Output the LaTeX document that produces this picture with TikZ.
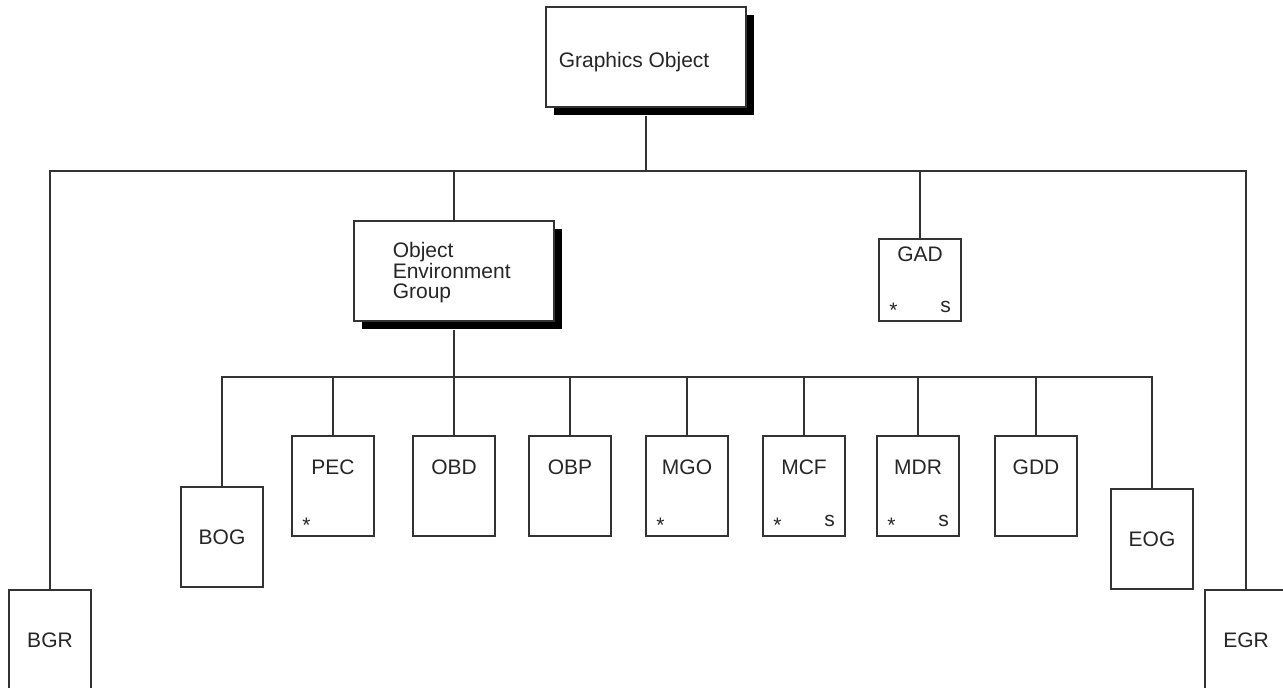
\documentclass[tikz,border=0pt]{standalone}
\usepackage{fontspec}
\setmainfont{Liberation Sans}
\usetikzlibrary{shadows}

\begin{document}
\begin{tikzpicture}[x=0.5pt, y=0.5pt]
\tikzset{box/.style = {shape=rectangle, draw=black!80, line width=0.65pt, fill=white, minimum width=41pt, minimum height=50pt, inner sep=0pt, font=\fontsize{10.5}{10.2}\selectfont, text=black!85}}
\tikzset{bigbox/.style = {box, minimum width=100pt, drop shadow={shadow xshift=4pt, shadow yshift=-4pt, fill=black, opacity=1}}}
    \tikzset{tag/.style = {inner sep=0pt, font=\fontsize{10.5}{10.2}\selectfont, text=black!85}}
    \tikzset{edge/.style = {draw=black!80, line width=0.65pt}}
\useasboundingbox (0,0) rectangle (1283,688);
\clip (0,0) rectangle (1283,688);

% Top level
\node[bigbox] (go) at (646,631){};
\node[tag, anchor=base west] (go-t) at ([shift={(6.5pt,-5.5pt)}]go.west){Graphics Object};
\node[bigbox] (oeg) at (454,417){};
\node[tag, anchor=north west, align=left] (oeg-t) at ([shift={(19.5pt,14.5pt)}]oeg.west){Object\\Environment\\Group};
\node[box, minimum height=41pt] (gad) at (920,408){};
\node[tag] (gad-t) at ([yshift=-8pt]gad.north){GAD};
\node[tag, anchor=north] (gad-a) at ([shift={(7.5pt,9.5pt)}]gad.south west){*};
\node[tag, anchor=base] (gad-s) at ([shift={(-8pt,4.8pt)}]gad.south east){s};
\node[box] (bgr) at (50,48){BGR};
\node[box] (egr) at (1246,48){EGR};

% Second level
\node[box] (bog) at (222,151){BOG};
\node[box] (pec) at (333,202){};
\node[tag] (pec-t) at ([yshift=-16pt]pec.north){PEC};
\node[tag, anchor=north] (pec-a) at ([shift={(7.5pt,9.5pt)}]pec.south west){*};
\node[box] (obd) at (454,202){};
\node[tag] (obd-t) at ([yshift=-16pt]obd.north){OBD};
\node[box] (obp) at (570,202){};
\node[tag] (obp-t) at ([yshift=-16pt]obp.north){OBP};
\node[box] (mgo) at (687,202){};
\node[tag] (mgo-t) at ([yshift=-16pt]mgo.north){MGO};
\node[tag, anchor=north] (mgo-a) at ([shift={(7.5pt,9.5pt)}]mgo.south west){*};
\node[box] (mcf) at (804,202){};
\node[tag] (mcf-t) at ([yshift=-16pt]mcf.north){MCF};
\node[tag, anchor=north] (mcf-a) at ([shift={(7.5pt,9.5pt)}]mcf.south west){*};
\node[tag, anchor=base] (mcf-s) at ([shift={(-8pt,5pt)}]mcf.south east){s};
\node[box] (mdr) at (918,202){};
\node[tag] (mdr-t) at ([yshift=-16pt]mdr.north){MDR};
\node[tag, anchor=north] (mdr-a) at ([shift={(7.5pt,9.5pt)}]mdr.south west){*};
\node[tag, anchor=base] (mdr-s) at ([shift={(-8pt,5pt)}]mdr.south east){s};
\node[box] (gdd) at (1036,202){};
\node[tag] (gdd-t) at ([yshift=-16pt]gdd.north){GDD};
\node[box] (eog) at (1152,149){EOG};
\coordinate (bus1) at (646,517);
\coordinate (bus2) at (454,311);

% Connectors from Graphics Object
\draw[edge] ([yshift=-4pt]go.south) to (bus1);
\draw[edge] (bus1) -| (bgr.north);
\draw[edge] (bus1) -| (oeg.north);
\draw[edge] (bus1) -| (gad.north);
\draw[edge] (bus1) -| (egr.north);

% Connectors from Object Environment Group
\draw[edge] ([yshift=-4pt]oeg.south) to (bus2);
\draw[edge] (bus2) -| (bog.north);
\draw[edge] (bus2) -| (pec.north);
\draw[edge] (bus2) -| (obd.north);
\draw[edge] (bus2) -| (obp.north);
\draw[edge] (bus2) -| (mgo.north);
\draw[edge] (bus2) -| (mcf.north);
\draw[edge] (bus2) -| (mdr.north);
\draw[edge] (bus2) -| (gdd.north);
\draw[edge] (bus2) -| (eog.north);

\end{tikzpicture}
\end{document}
